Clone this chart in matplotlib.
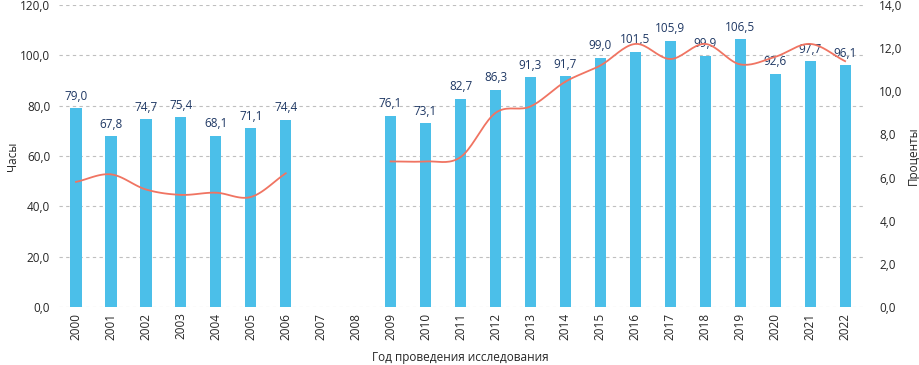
import numpy as np
import matplotlib
matplotlib.use("Agg")
import matplotlib.pyplot as plt
from matplotlib.ticker import FuncFormatter

plt.rcParams["font.family"] = ["Open Sans", "DejaVu Sans"]

years = [str(y) for y in range(2000, 2023)]
hours = [79.0, 67.8, 74.7, 75.4, 68.1, 71.1, 74.4, None, None,
         76.1, 73.1, 82.7, 86.3, 91.3, 91.7, 99.0, 101.5, 105.9,
         99.9, 106.5, 92.6, 97.7, 96.1]
percent = [5.8, 6.15, 5.45, 5.2, 5.3, 5.1, 6.2, None, None,
           6.75, 6.75, 6.95, 9.0, 9.3, 10.45, 11.2, 12.2, 11.5,
           12.2, 11.25, 11.6, 12.2, 11.4]

BAR_COLOR = "#4BBFE9"
LINE_COLOR = "#F07462"
LABEL_COLOR = "#1F3864"
TEXT_COLOR = "#262626"


def smooth(xs, ys, n=20):
    # Catmull-Rom style curve through the points (like Excel smoothed line)
    xs = np.asarray(xs, float)
    ys = np.asarray(ys, float)
    px = np.concatenate([[2 * xs[0] - xs[1]], xs, [2 * xs[-1] - xs[-2]]])
    py = np.concatenate([[2 * ys[0] - ys[1]], ys, [2 * ys[-1] - ys[-2]]])
    out_x, out_y = [], []
    t = np.linspace(0, 1, n)
    for i in range(1, len(px) - 2):
        for p, o in ((px, out_x), (py, out_y)):
            p0, p1, p2, p3 = p[i - 1], p[i], p[i + 1], p[i + 2]
            seg = 0.5 * ((2 * p1) + (-p0 + p2) * t
                         + (2 * p0 - 5 * p1 + 4 * p2 - p3) * t ** 2
                         + (-p0 + 3 * p1 - 3 * p2 + p3) * t ** 3)
            o.extend(seg)
    return out_x, out_y


def segments(vals):
    segs, cur = [], []
    for i, v in enumerate(vals):
        if v is None:
            if cur:
                segs.append(cur)
            cur = []
        else:
            cur.append(i)
    if cur:
        segs.append(cur)
    return segs


fig = plt.figure(figsize=(9.2, 3.65), dpi=100)
ax = fig.add_axes([0.0636, 0.159, 0.874, 0.827])
ax2 = ax.twinx()

x = np.arange(len(years))
h = np.array([np.nan if v is None else v for v in hours])
ax.bar(x, h, width=0.32, color=BAR_COLOR, zorder=2)
for xi, v in zip(x, hours):
    if v is not None:
        ax.annotate(f"{v:.1f}".replace(".", ","), (xi, v), xytext=(0, 4),
                    textcoords="offset points", ha="center", va="bottom",
                    fontsize=8.5, color=LABEL_COLOR, zorder=5)

for seg in segments(percent):
    sx, sy = smooth([x[i] for i in seg], [percent[i] for i in seg])
    ax2.plot(sx, sy, color=LINE_COLOR, lw=1.3, zorder=3)

fmt = FuncFormatter(lambda v, _: f"{v:.1f}".replace(".", ","))
ax.set_ylim(0, 120)
ax.set_yticks(np.arange(0, 121, 20))
ax.yaxis.set_major_formatter(fmt)
ax2.set_ylim(0, 14)
ax2.set_yticks(np.arange(0, 14.1, 2))
ax2.yaxis.set_major_formatter(fmt)
ax.set_xlim(-0.5, len(years) - 0.5)
ax.set_xticks(x)
ax.set_xticklabels(years, rotation=90)

ax.grid(axis="y", color="#BFBFBF", ls=(0, (3, 3)), lw=0.8, zorder=0)
ax.set_axisbelow(True)
for a in (ax, ax2):
    for s in a.spines.values():
        s.set_visible(False)
    a.tick_params(length=0, labelsize=8.5, colors=TEXT_COLOR)
ax.tick_params(axis="y", pad=6)
ax2.tick_params(axis="y", pad=12)
ax.tick_params(axis="x", pad=4)

ax.set_ylabel("Часы", fontsize=8.5, color=TEXT_COLOR, labelpad=1)
ax2.set_ylabel("Проценты", fontsize=8.5, color=TEXT_COLOR, labelpad=3)
ax.set_xlabel("Год проведения исследования", fontsize=8.5, color=TEXT_COLOR,
              labelpad=8)

fig.savefig("out.png", dpi=100)
